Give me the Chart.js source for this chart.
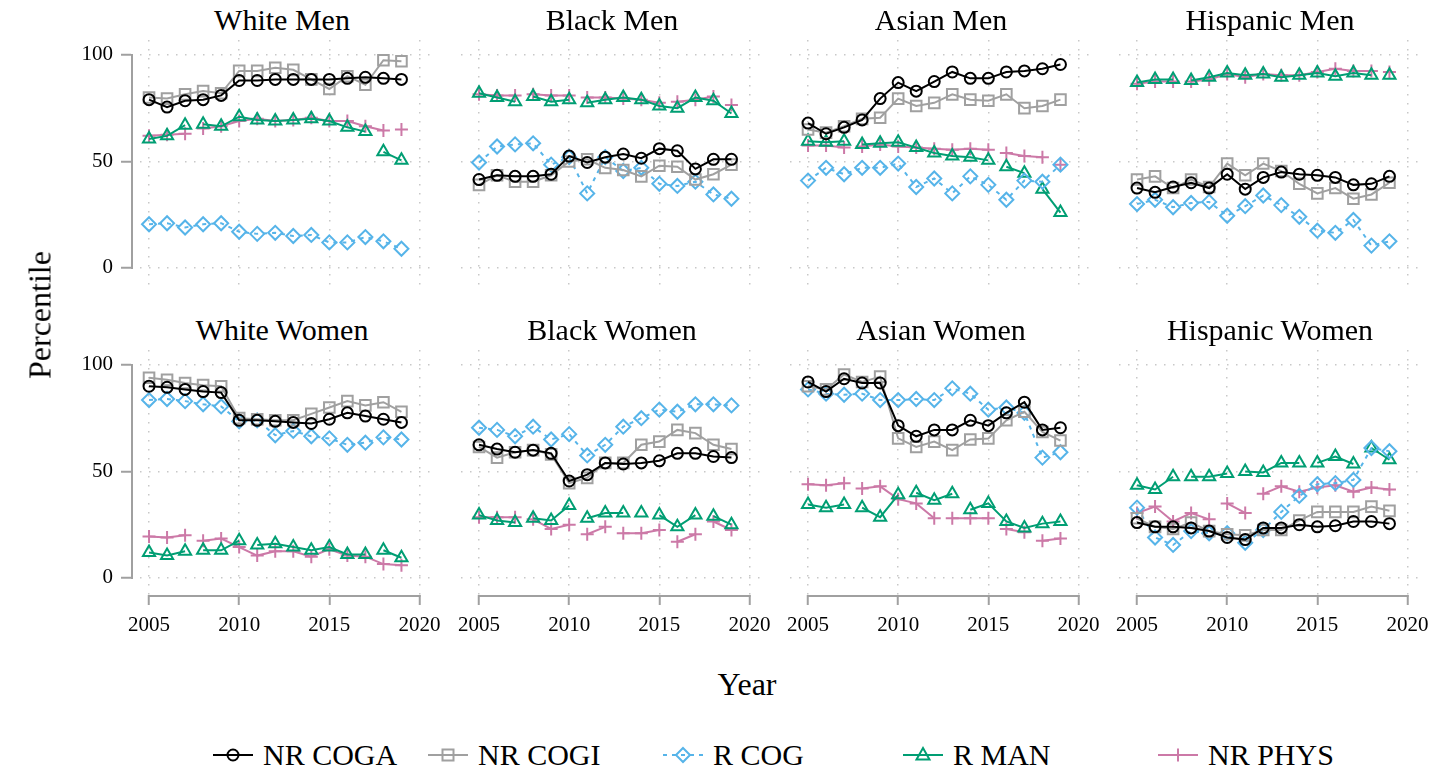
<!DOCTYPE html>
<html>
<head>
<meta charset="utf-8">
<script src="https://cdn.jsdelivr.net/npm/chart.js@4.4.1/dist/chart.umd.min.js"></script>
<style>
  body { margin: 0; background: #fff; width: 1433px; height: 771px; position: relative; overflow: hidden;
         font-family: "Liberation Serif", "Times New Roman", serif; color: #000; }
  .box { position: absolute; }
  .ttl { position: absolute; font-size: 30px; transform: translate(-50%, -50%); white-space: nowrap; }
  .axt { position: absolute; font-size: 32px; white-space: nowrap; }
  .leg { position: absolute; top: 738px; display: flex; align-items: center; font-size: 30px; white-space: nowrap; }
  .leg svg { margin-right: 10px; }
</style>
</head>
<body>
<script>
// years on the x axis and tick values
var years = [2005, 2006, 2007, 2008, 2009, 2010, 2011, 2012, 2013, 2014, 2015, 2016, 2017, 2018, 2019];
var xTicks = [2005, 2010, 2015, 2020];
var yTicks = [0, 50, 100];

var panels = ["White Men", "Black Men", "Asian Men", "Hispanic Men",
              "White Women", "Black Women", "Asian Women", "Hispanic Women"];

// one row per panel, same order as panels
var nrCoga = [
  [79, 75.5, 78.5, 79, 81, 88, 88, 88.5, 88.5, 88.5, 88.5, 89, 89.5, 89, 88.5],
  [41.5, 43.5, 43, 43, 44, 52.5, 49.5, 52, 53.5, 51.5, 56, 55, 46.5, 51, 51],
  [68, 63, 66, 69.5, 79.5, 87, 83, 87.5, 92, 89, 89, 92, 92.5, 93.5, 95.5],
  [37.5, 35.5, 38, 40, 37.5, 44, 37, 42.5, 45, 44, 43.5, 42.5, 39, 39.5, 43],
  [90, 89.5, 88.5, 87.5, 87, 74, 74, 73.5, 73, 72.5, 74.5, 77.5, 76, 74.5, 73],
  [62.5, 60.5, 59, 60, 58.5, 45.5, 48.5, 54, 53.5, 54, 55, 58.5, 58.5, 57, 56.5],
  [92, 87.5, 93.5, 91.5, 91.5, 71.5, 66.5, 69.5, 69.5, 74, 71.5, 77.5, 82.5, 69.5, 70.5],
  [26, 24, 24, 23.5, 22, 19, 18, 23.5, 23.5, 25, 24, 24.5, 26.5, 26.5, 25.5]
];
var nrCogi = [
  [80, 79.5, 81.5, 83, 82, 92.5, 92.5, 94, 93, 88.5, 84, 90, 86, 97.5, 97],
  [39, 43.5, 40.5, 40.5, 43.5, 50, 51, 47, 46, 43, 48, 47.5, 41.5, 44, 48.5],
  [65, 63.5, 66.5, 70, 70.5, 79.5, 76, 77.5, 81.5, 79, 78.5, 81.5, 75, 76, 79],
  [41.5, 43, 37.5, 41.5, 38, 49, 43.5, 49, 45.5, 39.5, 35, 37.5, 32.5, 34.5, 40],
  [94, 93, 91.5, 90.5, 90, 75, 74.5, 74, 74, 77, 80, 83, 81, 82.5, 78],
  [61.5, 56.5, 59, 60, 58, 44.5, 47, 54, 54, 62.5, 64, 69.5, 68, 62.5, 60.5],
  [90, 88.5, 95.5, 92, 94.5, 65.5, 61.5, 64, 60, 65, 65.5, 74, 78, 68.5, 64.5],
  [28, 24, 23, 26, 22, 20.5, 20, 22.5, 22.5, 27, 31, 31, 31, 33.5, 31.5]
];
var rCog = [
  [20.5, 21, 19, 20.5, 21, 17, 16, 16.5, 15, 15.5, 12, 12, 14.5, 12.5, 9],
  [49.5, 57, 58, 58.5, 48.5, 52, 35, 52, 45.5, 47, 39.5, 38.5, 40.5, 34.5, 32.5],
  [41, 47, 44, 47, 47, 49, 38, 42, 35, 43, 39, 32, 41, 40.5, 48.5],
  [30, 32, 28.5, 30.5, 31, 24.5, 29, 34, 29.5, 24, 17.5, 16.5, 22.5, 10.5, 12.5],
  [83.5, 84, 83, 81.5, 80.5, 73.5, 74, 67, 69, 66.5, 65.5, 62.5, 63.5, 66, 65],
  [70.5, 69.5, 66.5, 71, 65, 67.5, 57.5, 62.5, 71, 75, 79, 78, 81.5, 81.5, 81],
  [88.5, 86.5, 86, 86.5, 83.5, 83.5, 84, 83.5, 89, 86.5, 79, 80, 77.5, 56.5, 59],
  [33, 19, 15.5, 22, 21, 21, 16.5, 22.5, 31, 38.5, 44, 44.5, 46, 61, 59.5]
];
var rMan = [
  [60.5, 62, 67, 67.5, 66.5, 71, 69.5, 69, 69.5, 70, 69, 66, 64, 54.5, 50.5],
  [82, 80, 78, 80.5, 78, 79, 77.5, 79, 80, 79, 76, 75, 80, 78.5, 72.5],
  [59.5, 59, 59.5, 58, 58.5, 59, 56.5, 54, 52.5, 52, 50.5, 47.5, 44.5, 37, 26],
  [87, 88.5, 88.5, 88, 89.5, 91.5, 90.5, 91, 89.5, 90.5, 91.5, 90, 91.5, 90.5, 90.5],
  [12, 10.5, 12.5, 13, 13, 17.5, 15.5, 16, 14.5, 13, 14.5, 11, 11, 13, 9.5],
  [29.5, 27, 26, 28, 27, 34, 28, 30.5, 30.5, 30.5, 29.5, 24, 29.5, 29, 25],
  [34.5, 33, 34.5, 33, 28.5, 39, 40, 36.5, 39.5, 32, 35, 26.5, 23.5, 25.5, 26.5],
  [43.5, 41.5, 47.5, 47.5, 47.5, 49, 50, 49.5, 54, 54, 54, 57, 53.5, 61, 55.5]
];
var nrPhys = [
  [62, 62.5, 63, 65.5, 66.5, 69, 70, 69, 69.5, 70.5, 69, 69, 66.5, 64.5, 65],
  [81.5, 81, 81, 81.5, 81, 81, 80, 80, 79.5, 79, 77.5, 78, 79, 80.5, 76.5],
  [57.5, 57.5, 56.5, 57, 58, 57, 56.5, 56, 55.5, 56, 55.5, 54, 52.5, 52, 48.5],
  [86.5, 87.5, 87.5, 87.5, 88.5, 91, 89.5, 91, 90.5, 90.5, 92, 93.5, 92.5, 92.5, 92],
  [19.5, 19, 20, 17.5, 18.5, 14.5, 10.5, 12.5, 12.5, 10, 13.5, 10.5, 10, 6.5, 6],
  [28.5, 28.5, 28.5, 27.5, 23, 25, 20.5, 24, 21, 21, 22.5, 17, 20.5, 26.5, 22.5],
  [44, 43.5, 44.5, 42, 43, 37, 35, 28, 28, 28, 28, 23, 21.5, 17.5, 18.5],
  [30.5, 33.5, 26.5, 30.5, 27.5, 35, 30.5, 39.5, 43, 40.5, 42.5, 43.5, 40.5, 42.5, 41.5]
];
// years after which the R MAN / NR PHYS line is broken in the original
var manBreaks = [[2007, 2017], [2007, 2010], [2007, 2015, 2017], [2007, 2018], [2007, 2010, 2017],
                 [2007, 2010, 2013, 2014, 2017], [2007, 2010, 2013], [2007, 2010, 2014, 2017]];
var physBreaks = [[2007, 2018], [2007, 2010, 2015, 2018], [2007, 2015, 2018], [2007, 2018], [2007],
                  [2007, 2010, 2012, 2015, 2017], [2007, 2012, 2015, 2017], [2009, 2011]];

var series = [
  { label: "NR COGA", data: nrCoga, color: "#000000", style: "circle", r: 5.5, dash: [] },
  { label: "NR COGI", data: nrCogi, color: "#a0a0a0", style: "rect", r: 7.5, dash: [] },
  { label: "R COG", data: rCog, color: "#56b4e9", style: "rectRot", r: 7, dash: [4, 5] },
  { label: "R MAN", data: rMan, color: "#009e73", style: "triangle", r: 7, dash: [], breaks: manBreaks },
  { label: "NR PHYS", data: nrPhys, color: "#cc79a7", style: "cross", r: 6.5, dash: [], breaks: physBreaks }
];

var FONT = "'Liberation Serif', 'Times New Roman', serif";
var colLeft = [131, 461, 790, 1119];
var rowTop = [40, 350];
var plotW = 302, plotH = 245, yAxisW = 70, xAxisH = 50, padL = 12, padR = 24;

// axis lines only run over the tick range, like the original
var bracketAxes = {
  id: "bracketAxes",
  afterDraw: function (chart, args, opts) {
    var ctx = chart.ctx, a = chart.chartArea;
    var xs = chart.scales.x, ys = chart.scales.y;
    ctx.save();
    ctx.strokeStyle = "#a0a0a0";
    ctx.lineWidth = 2;
    if (opts.showY) {
      ctx.beginPath();
      ctx.moveTo(a.left + 1, ys.getPixelForValue(yTicks[0]) + 1);
      ctx.lineTo(a.left + 1, ys.getPixelForValue(yTicks[yTicks.length - 1]) - 1);
      ctx.stroke();
    }
    if (opts.showX) {
      ctx.beginPath();
      ctx.moveTo(xs.getPixelForValue(xTicks[0]) - 1, a.bottom + 1);
      ctx.lineTo(xs.getPixelForValue(xTicks[xTicks.length - 1]) + 1, a.bottom + 1);
      ctx.stroke();
    }
    ctx.restore();
  }
};

function noPad(s) {
  s.paddingTop = 0; s.paddingBottom = 0; s.paddingLeft = 0; s.paddingRight = 0;
}

function addText(cls, txt, x, y, extra) {
  var d = document.createElement("div");
  d.className = cls;
  d.textContent = txt;
  d.style.left = x + "px";
  d.style.top = y + "px";
  if (extra) d.style.transform = extra;
  document.body.appendChild(d);
}

panels.forEach(function (name, i) {
  var r = Math.floor(i / 4), c = i % 4;
  var showY = c === 0, showX = r === 1;
  var box = document.createElement("div");
  box.className = "box";
  box.style.left = (colLeft[c] - (showY ? yAxisW : 0) - padL) + "px";
  box.style.top = rowTop[r] + "px";
  box.style.width = (plotW + (showY ? yAxisW : 0) + padL + padR) + "px";
  box.style.height = (plotH + (showX ? xAxisH : 0)) + "px";
  var cv = document.createElement("canvas");
  box.appendChild(cv);
  document.body.appendChild(box);

  addText("ttl", name, colLeft[c] + plotW / 2, rowTop[r] - 20);

  new Chart(cv, {
    type: "line",
    data: {
      datasets: series.map(function (s) {
        var br = s.breaks ? s.breaks[i] : [];
        return {
          label: s.label,
          data: years.map(function (yr, k) { return { x: yr, y: s.data[i][k] }; }),
          borderColor: s.color,
          backgroundColor: "rgba(0,0,0,0)",
          borderWidth: 2,
          borderDash: s.dash,
          pointStyle: s.style,
          pointRadius: s.r,
          pointBorderWidth: 2,
          pointBorderColor: s.color,
          pointBackgroundColor: "rgba(0,0,0,0)",
          tension: 0,
          segment: {
            borderColor: function (ctx) {
              return br.indexOf(years[ctx.p0DataIndex]) >= 0 ? "rgba(0,0,0,0)" : undefined;
            }
          }
        };
      })
    },
    options: {
      responsive: true,
      maintainAspectRatio: false,
      animation: false,
      layout: { padding: { left: padL, right: padR, top: 0, bottom: 0 }, autoPadding: false },
      plugins: {
        legend: { display: false },
        tooltip: { enabled: false },
        bracketAxes: { showX: showX, showY: showY }
      },
      scales: {
        x: {
          type: "linear", min: 2004, max: 2020.75,
          afterBuildTicks: function (s) { s.ticks = xTicks.map(function (v) { return { value: v }; }); },
          afterFit: function (s) { s.height = showX ? xAxisH : 0; noPad(s); },
          ticks: { display: showX, autoSkip: false, maxRotation: 0, padding: 8, color: "#000",
                   font: { family: FONT, size: 21 }, callback: function (v) { return String(v); } },
          grid: { color: "#c8c8c8", lineWidth: 1.5, drawTicks: showX, tickLength: 10,
                  tickColor: "#a0a0a0", tickWidth: 2, tickBorderDash: [] },
          border: { display: false, dash: [1.5, 7.5] }
        },
        y: {
          min: -8, max: 107,
          afterBuildTicks: function (s) { s.ticks = yTicks.map(function (v) { return { value: v }; }); },
          afterFit: function (s) { s.width = showY ? yAxisW : 0; noPad(s); },
          ticks: { display: showY, padding: 8, color: "#000",
                   font: { family: FONT, size: 21 }, callback: function (v) { return String(v); } },
          grid: { color: "#c8c8c8", lineWidth: 1.5, drawTicks: showY, tickLength: 10,
                  tickColor: "#a0a0a0", tickWidth: 2, tickBorderDash: [] },
          border: { display: false, dash: [1.5, 7.5] }
        }
      }
    },
    plugins: [bracketAxes]
  });
});

addText("axt", "Percentile", 40, 315, "translate(-50%, -50%) rotate(-90deg)");
addText("axt", "Year", 747, 684, "translate(-50%, -50%)");

// legend, markers drawn as small svg
var legendX = [213, 428, 663, 903, 1158];
function markerSvg(s) {
  var m = "";
  var k = 'fill="none" stroke="' + s.color + '" stroke-width="2"';
  if (s.style === "circle") m = '<circle cx="20" cy="16" r="5.5" ' + k + '/>';
  if (s.style === "rect") m = '<rect x="14.5" y="10.5" width="11" height="11" ' + k + '/>';
  if (s.style === "rectRot") m = '<polygon points="20,9 27,16 20,23 13,16" ' + k + '/>';
  if (s.style === "triangle") m = '<polygon points="20,9 26.5,20.5 13.5,20.5" ' + k + '/>';
  if (s.style === "cross") m = '<path d="M20 9.5V22.5M13.5 16H26.5" ' + k + '/>';
  var dash = s.dash.length ? ' stroke-dasharray="' + s.dash.join(",") + '"' : "";
  return '<svg width="40" height="32"><line x1="0" y1="16" x2="40" y2="16" stroke="' + s.color +
         '" stroke-width="2"' + dash + '/>' + m + '</svg>';
}
series.forEach(function (s, i) {
  var d = document.createElement("div");
  d.className = "leg";
  d.style.left = legendX[i] + "px";
  d.innerHTML = markerSvg(s) + "<span>" + s.label + "</span>";
  document.body.appendChild(d);
});
</script>
</body>
</html>
